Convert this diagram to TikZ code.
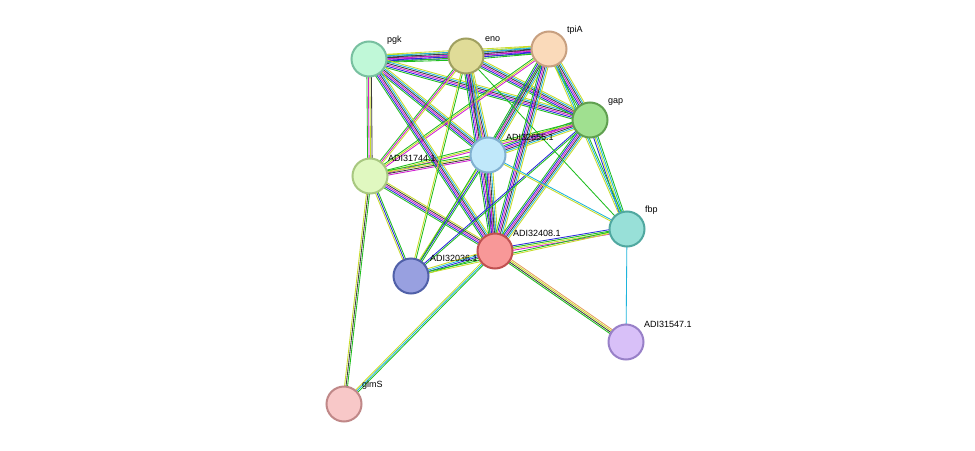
\documentclass[tikz,border=0pt]{standalone}
\usepackage{fontspec}
\setmainfont{Liberation Sans}
\usetikzlibrary{calc}
\definecolor{sg}{RGB}{30,190,30}
\definecolor{sm}{RGB}{210,30,210}
\definecolor{sc}{RGB}{30,180,220}
\definecolor{sb}{RGB}{40,40,220}
\definecolor{sy}{RGB}{200,220,40}
\definecolor{sk}{RGB}{60,60,60}
\definecolor{so}{RGB}{230,160,90}
\newcommand\sedge[3]{%
 \foreach \c [count=\i] in {#3}{\global\let\nn\i}%
 \foreach \c [count=\i] in {#3}{%
  \pgfmathsetmacro\o{(\i-(\nn+1)/2)*1.5}%
  \draw[\c, line width=0.85pt] ($(#1)!\o pt!90:(#2)$) -- ($(#2)!\o pt!-90:(#1)$);}}
\tikzset{prot/.style={circle,minimum size=35pt,inner sep=0pt,line width=2pt},
 lab/.style={anchor=south west,inner sep=0pt,font=\fontsize{9}{11}\selectfont}}
\begin{document}
\begin{tikzpicture}[x=1pt,y=-1pt]
\useasboundingbox[fill=white] (0,0) rectangle (975,450);
\coordinate (pgk) at (369,59);
\coordinate (eno) at (466,56);
\coordinate (tpiA) at (549,49);
\coordinate (gap) at (590,120);
\coordinate (a55) at (488,155);
\coordinate (a44) at (370,176);
\coordinate (fbp) at (627,229);
\coordinate (a08) at (495,251);
\coordinate (a36) at (411,276);
\coordinate (a47) at (626,342);
\coordinate (glmS) at (344,404);
\sedge{pgk}{eno}{sg,sb,sm,sk,sc,sy}
\sedge{pgk}{tpiA}{sg,sb,sm,sk,sc,sy}
\sedge{eno}{tpiA}{sg,sb,sm,sk,sc,sy}
\sedge{pgk}{gap}{sg,sb,sm,sk,sc,sy}
\sedge{eno}{gap}{sg,sb,sm,sk,sc,sy}
\sedge{tpiA}{gap}{sg,sb,sm,sk,sc,sy}
\sedge{pgk}{a55}{sg,sb,sm,sk,sc,sy}
\sedge{eno}{a55}{sg,sb,sm,sk,sc,sy}
\sedge{tpiA}{a55}{sg,sb,sm,sk,sc,sy}
\sedge{gap}{a55}{sg,sb,sm,sk,sc,sy}
\sedge{pgk}{a44}{sg,sm,sy,sk}
\sedge{eno}{a44}{sg,sm,sy}
\sedge{tpiA}{a44}{sg,sy,sm}
\sedge{gap}{a44}{sg,sy,sm}
\sedge{a55}{a44}{sg,sy,sk,sm}
\sedge{pgk}{a08}{sg,sb,sm,sk,sc,sy}
\sedge{eno}{a08}{sg,sb,sm,sk,sc,sy}
\sedge{tpiA}{a08}{sg,sb,sm,sk,sc,sy}
\sedge{gap}{a08}{sg,sb,sm,sk,sc,sy}
\sedge{a55}{a08}{sg,sb,sm,sk,sc,sy}
\sedge{a44}{a08}{sg,sb,sm,sk,sy}
\sedge{a36}{a44}{sg,sb,sy}
\sedge{a36}{a08}{sg,sb,sc,sy}
\sedge{a36}{a55}{sg,sb,sy}
\sedge{a36}{eno}{sg,sy}
\sedge{a36}{tpiA}{sg}
\sedge{a36}{gap}{sg,sb}
\sedge{fbp}{gap}{sg,sc,sy,sb}
\sedge{fbp}{a55}{sc,sy}
\sedge{fbp}{a08}{sb,sg,sy,sm}
\sedge{fbp}{tpiA}{sg,sc,sy}
\sedge{fbp}{eno}{sg}
\sedge{fbp}{a36}{sg,sy}
\sedge{fbp}{a47}{sc}
\sedge{a08}{a47}{sg,sk,sy,so}
\sedge{glmS}{a44}{sg,sk,sy}
\sedge{glmS}{a08}{sg,sc,sy}
\node[prot,fill={rgb,255:red,192;green,248;blue,216},draw={rgb,255:red,120;green,192;blue,160}] (n-pgk) at (pgk) {};
\node[prot,fill={rgb,255:red,224;green,220;blue,152},draw={rgb,255:red,160;green,160;blue,96}] (n-eno) at (eno) {};
\node[prot,fill={rgb,255:red,250;green,218;blue,186},draw={rgb,255:red,200;green,160;blue,128}] (n-tpiA) at (tpiA) {};
\node[prot,fill={rgb,255:red,160;green,224;blue,144},draw={rgb,255:red,96;green,160;blue,80}] (n-gap) at (gap) {};
\node[prot,fill={rgb,255:red,192;green,232;blue,250},draw={rgb,255:red,128;green,176;blue,208}] (n-a55) at (a55) {};
\node[prot,fill={rgb,255:red,224;green,248;blue,192},draw={rgb,255:red,168;green,200;blue,128}] (n-a44) at (a44) {};
\node[prot,fill={rgb,255:red,152;green,224;blue,216},draw={rgb,255:red,80;green,168;blue,160}] (n-fbp) at (fbp) {};
\node[prot,fill={rgb,255:red,248;green,152;blue,152},draw={rgb,255:red,192;green,80;blue,80}] (n-a08) at (a08) {};
\node[prot,fill={rgb,255:red,152;green,160;blue,224},draw={rgb,255:red,80;green,96;blue,168}] (n-a36) at (a36) {};
\node[prot,fill={rgb,255:red,216;green,192;blue,248},draw={rgb,255:red,152;green,128;blue,200}] (n-a47) at (a47) {};
\node[prot,fill={rgb,255:red,248;green,200;blue,200},draw={rgb,255:red,192;green,136;blue,136}] (n-glmS) at (glmS) {};
\node[lab] (l-pgk) at (387,45) {pgk};
\node[lab] (l-eno) at (485,42) {eno};
\node[lab] (l-tpiA) at (567,35) {tpiA};
\node[lab] (l-gap) at (608,106) {gap};
\node[lab] (l-a55) at (506,141) {ADI32655.1};
\node[lab] (l-a44) at (388,162) {ADI31744.1};
\node[lab] (l-fbp) at (645,215) {fbp};
\node[lab] (l-a08) at (513,237) {ADI32408.1};
\node[lab] (l-a36) at (430,262) {ADI32036.1};
\node[lab] (l-a47) at (644,328) {ADI31547.1};
\node[lab] (l-glmS) at (362,390) {glmS};
\end{tikzpicture}
\end{document}
